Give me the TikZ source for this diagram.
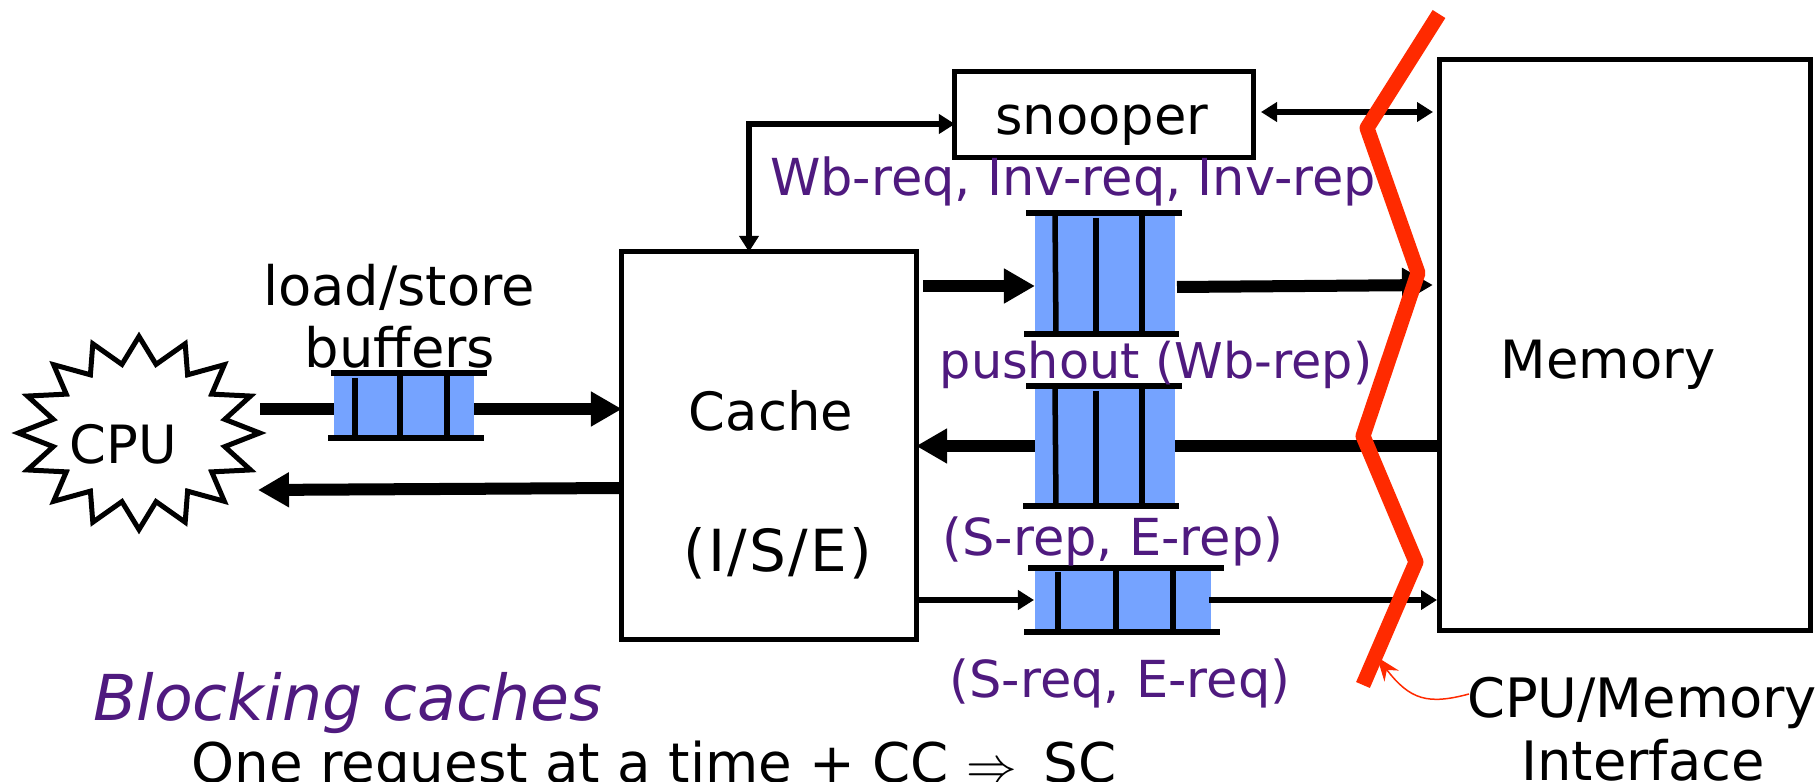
\documentclass[tikz,border=0pt]{standalone}
\usepackage{fontspec}
\setmainfont{DejaVu Sans}
\usepackage{tikz}
\usetikzlibrary{arrows.meta,shapes.geometric}

\definecolor{labelpurple}{HTML}{4F1A7F}
\definecolor{bufferblue}{HTML}{75A3FF}
\definecolor{ifacered}{HTML}{FF2A00}

\tikzset{
    box/.style={draw, line width=5*0.2845pt, fill=white, inner sep=0, outer sep=0},
    buffer/.style={fill=bufferblue, inner sep=0, outer sep=0},
    bufline/.style={line width=5.5*0.2845pt},
    fat/.style={line width=12*0.2845pt},
    fatarrow/.style={fat, -{Triangle[length=3.1mm,width=3.3mm]}},
    slimarrow/.style={line width=5.5*0.2845pt, -{Triangle[length=1.6mm,width=1.9mm]}},
    slimboth/.style={line width=5.5*0.2845pt, {Triangle[length=1.6mm,width=1.9mm]}-{Triangle[length=1.6mm,width=1.9mm]}},
    bigtext/.style={inner sep=0, anchor=base, font=\fontsize{15}{18}\selectfont},
    sidetext/.style={inner sep=0, anchor=base, font=\fontsize{15.45}{18}\selectfont},
    purpletext/.style={inner sep=0, anchor=base, text=labelpurple, font=\fontsize{14.5}{17}\selectfont},
}

\begin{document}
\begin{tikzpicture}[x=0.01cm, y=-0.01cm]
    \clip (0,0) rectangle (1820,782);
    \fill[white] (0,0) rectangle (1820,782);

    % boxes
    \node[box, minimum width=2.94cm, minimum height=3.87cm] (cache) at (769,445.5) {};
    \node[box, minimum width=3.70cm, minimum height=5.70cm] (memory) at (1625,345) {};
    \node[box, minimum width=2.98cm, minimum height=0.85cm] (snooper) at (1104,114.5) {};
    \node[star, star points=16, star point ratio=1.38, minimum size=1.93cm, draw, line width=5*0.2845pt, inner sep=0, transform shape, xscale=1.25] (cpu) at (139,433) {};

    % queues
    \node[buffer, minimum width=1.40cm, minimum height=0.60cm] (lsbuf) at (404,405) {};
    \node[buffer, minimum width=1.40cm, minimum height=1.20cm] (wbbuf) at (1105,273) {};
    \node[buffer, minimum width=1.40cm, minimum height=1.18cm] (repbuf) at (1105,445) {};
    \node[buffer, minimum width=1.76cm, minimum height=0.60cm] (reqbuf) at (1123,600) {};

    \draw[bufline] (331,373) -- (487,373);
    \draw[bufline] (328,438) -- (484,438);
    \draw[bufline] (355,378) -- (355,436);
    \draw[bufline] (400,374) -- (400,436);
    \draw[bufline] (447,374) -- (447,436);

    \draw[bufline] (1026,213) -- (1182,213);
    \draw[bufline] (1024,334) -- (1179,334);
    \draw[bufline] (1055,213) -- (1056,333);
    \draw[bufline] (1096,218) -- (1096,333);
    \draw[bufline] (1142,213) -- (1142,333);

    \draw[bufline] (1026,386) -- (1182,386);
    \draw[bufline] (1023,506) -- (1179,506);
    \draw[bufline] (1055,386) -- (1056,505);
    \draw[bufline] (1096,391) -- (1096,505);
    \draw[bufline] (1142,386) -- (1142,505);

    \draw[bufline] (1028,568) -- (1224,568);
    \draw[bufline] (1024,632) -- (1220,632);
    \draw[bufline] (1058,572) -- (1058,631);
    \draw[bufline] (1116,568) -- (1116,631);
    \draw[bufline] (1173,568) -- (1173,631);

    % connectors
    \coordinate (cpuout) at (260,409);
    \coordinate (cpuin) at (258,490);
    \coordinate (cacheback) at (622,488);
    \coordinate (cacheout) at (923,286);
    \coordinate (wbend) at (1433,285);
    \coordinate (wbstart) at (1177,287);
    \coordinate (snoopend) at (1433,112);
    \coordinate (snoopstart) at (1261,112);
    \coordinate (corner) at (749,124);
    \coordinate (reqstart) at (1209,600);
    \coordinate (reqend) at (1437,600);
    \coordinate (reqin) at (1034,600);
    \coordinate (replevel) at (1300,446);

    \draw[fat] (cpuout) -- (lsbuf.west |- cpuout);
    \draw[fatarrow] (lsbuf.east |- cpuout) -- (cache.west |- cpuout);
    \draw[fatarrow] (cacheback) -- (cpuin);
    \draw[fatarrow] (cacheout) -- (wbbuf.west |- cacheout);
    \draw[fatarrow] (wbstart) -- (wbend);
    \draw[fat] (memory.west |- replevel) -- (repbuf.east |- replevel);
    \draw[fatarrow] (repbuf.west |- replevel) -- (cache.east |- replevel);
    \draw[slimarrow] (cache.east |- reqin) -- (reqin);
    \draw[slimarrow] (reqstart) -- (reqend);
    \draw[slimboth] (snoopstart) -- (snoopend);
    \draw[slimboth] (snooper.west |- corner) -- (corner) -- (corner |- cache.north);

    % interface
    \coordinate (redtop) at (1439,14);
    \coordinate (redbottom) at (1363,685);
    \draw[ifacered, line width=15*0.2845pt, line join=round] (redtop) -- (1367,128) -- (1418,273) -- (1363,436) -- (1416,562) -- (redbottom);

    % labels
    \node[bigtext] (cpulabel) at (123,464) {CPU};
    \node[bigtext] (snooperlabel) at (1102,135) {snooper};
    \node[sidetext] (lslabel) at (399,306) {load/store};
    \node[sidetext] (buflabel) at (400,368) {buffers};
    \node[bigtext] (cachelabel) at (771,430) {Cache};
    \node[inner sep=0, anchor=base, font=\fontsize{16.5}{20}\selectfont\addfontfeatures{LetterSpace=4}] (iselabel) at (778,571) {(I/S/E)};
    \node[bigtext] (memlabel) at (1608,379) {Memory};
    \node[purpletext] (snooplabel) at (1073,196) {Wb-req, Inv-req, Inv-rep};
    \node[purpletext, font=\fontsize{14}{17}\selectfont] (pushlabel) at (1156,379) {pushout (Wb-rep)};
    \node[purpletext] (replabel) at (1113,555) {(S-rep, E-rep)};
    \node[purpletext] (reqlabel) at (1120,697) {(S-req, E-req)};
    \node[inner sep=0, anchor=base, text=labelpurple, font=\fontsize{18}{20}\selectfont\itshape] (blocklabel) at (348,720) {Blocking caches};
    \node[inner sep=0, anchor=base, font=\fontsize{15.55}{18}\selectfont] (onelabel) at (654,782) {One request at a time + CC $\Rightarrow$\, SC};
    \node[sidetext] (ifacelabel) at (1642,717) {CPU/Memory};
    \node[sidetext] (ifacelabelb) at (1643,780) {Interface};
    \coordinate (ifacefoot) at (1469,694);
    \coordinate (redpoint) at (1377,657);
    \draw[ifacered, line width=1.5*0.2845pt, -{Stealth[length=2.4mm,width=1.8mm]}] (ifacefoot) .. controls (1428,705) and (1410,700) .. (redpoint);
\end{tikzpicture}
\end{document}
